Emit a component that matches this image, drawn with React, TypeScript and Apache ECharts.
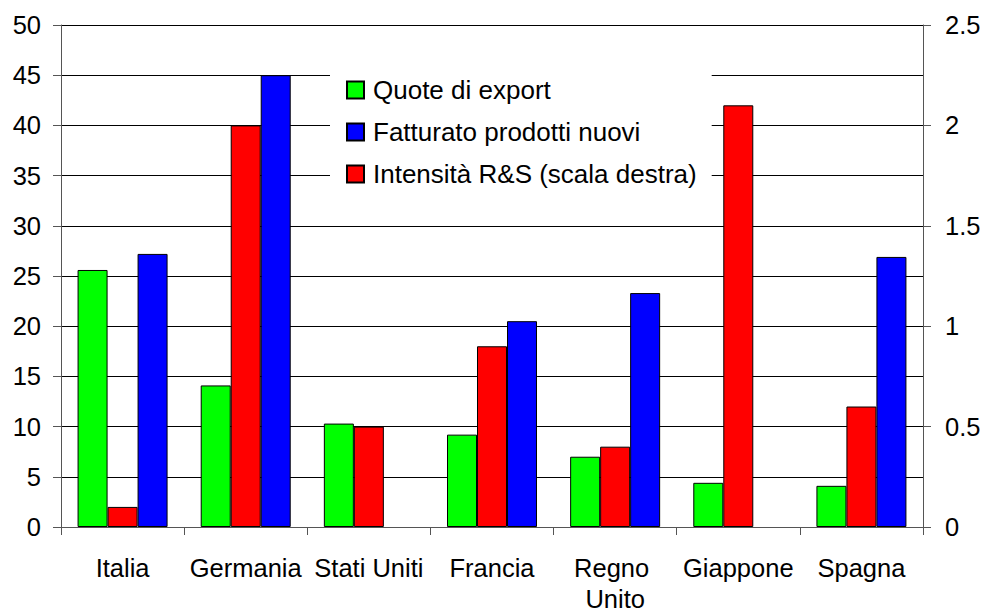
import React, { useEffect, useRef } from "react";
import * as echarts from "echarts";

const categories = ["Italia", "Germania", "Stati Uniti", "Francia", "Regno Unito", "Giappone", "Spagna"];
const quoteExport = [25.6, 14.1, 10.3, 9.2, 7.0, 4.4, 4.1];
const intensitaRS = [0.1, 2.0, 0.5, 0.9, 0.4, 2.1, 0.6];
const fatturatoNuovi: (number | null)[] = [27.2, 45, null, 20.5, 23.3, null, 26.9];
const leftTicks = { min: 0, max: 50, interval: 5 };
const rightTicks = { min: 0, max: 2.5, interval: 0.5 };

const FONT = "'Liberation Sans', Arial, Helvetica, sans-serif";

export default function App() {
  const ref = useRef<HTMLDivElement>(null);
  useEffect(() => {
    if (!ref.current) return;
    const chart = echarts.init(ref.current, undefined, { renderer: "svg" });
    const barStyle = (color: string) => ({ color, borderColor: "#000", borderWidth: 1 });
    chart.setOption({
      animation: false,
      backgroundColor: "#fff",
      textStyle: { fontFamily: FONT },
      grid: { left: 61, right: 61, top: 25, bottom: 85, containLabel: false },
      legend: {
        orient: "vertical",
        left: 330,
        top: 62,
        backgroundColor: "#fff",
        padding: [15, 15, 15, 16],
        itemWidth: 17,
        itemHeight: 17,
        itemGap: 16,
        icon: "rect",
        data: ["Quote di export", "Fatturato prodotti nuovi", "Intensità R&S (scala destra)"],
        textStyle: { fontSize: 26, fontFamily: FONT, color: "#000", lineHeight: 25, padding: [0, 0, 0, 4] },
      },
      xAxis: {
        type: "category",
        data: categories,
        axisLine: { lineStyle: { color: "#555", width: 1 } },
        axisTick: { show: true, length: 8, alignWithLabel: false, lineStyle: { color: "#555" } },
        axisLabel: {
          fontSize: 25.5,
          fontFamily: FONT,
          color: "#000",
          margin: 25,
          lineHeight: 31,
          width: 118,
          overflow: "break",
          interval: 0,
        },
      },
      yAxis: [
        {
          type: "value",
          min: leftTicks.min,
          max: leftTicks.max,
          interval: leftTicks.interval,
          position: "left",
          axisLine: { show: true, lineStyle: { color: "#555" } },
          axisTick: { show: true, length: 8, lineStyle: { color: "#555" } },
          axisLabel: { fontSize: 25.5, fontFamily: FONT, color: "#000", margin: 20 },
          splitLine: { show: true, lineStyle: { color: "#000", width: 1 } },
        },
        {
          type: "value",
          min: rightTicks.min,
          max: rightTicks.max,
          interval: rightTicks.interval,
          position: "right",
          axisLine: { show: true, lineStyle: { color: "#555" } },
          axisTick: { show: true, length: 8, lineStyle: { color: "#555" } },
          axisLabel: { fontSize: 25.5, fontFamily: FONT, color: "#000", margin: 22 },
          splitLine: { show: false },
        },
      ],
      series: [
        {
          name: "Quote di export",
          type: "bar",
          yAxisIndex: 0,
          data: quoteExport,
          barWidth: 30,
          barGap: "0%",
          itemStyle: barStyle("#00ff00"),
        },
        {
          name: "Intensità R&S (scala destra)",
          type: "bar",
          yAxisIndex: 1,
          data: intensitaRS,
          barWidth: 30,
          barGap: "0%",
          itemStyle: barStyle("#ff0000"),
        },
        {
          name: "Fatturato prodotti nuovi",
          type: "bar",
          yAxisIndex: 0,
          data: fatturatoNuovi,
          barWidth: 30,
          barGap: "0%",
          itemStyle: barStyle("#0000ff"),
        },
      ],
    });
    return () => chart.dispose();
  }, []);
  return (
    <div
      ref={ref}
      style={{ position: "fixed", left: 0, top: 0, width: 984, height: 614, background: "#fff" }}
    />
  );
}
